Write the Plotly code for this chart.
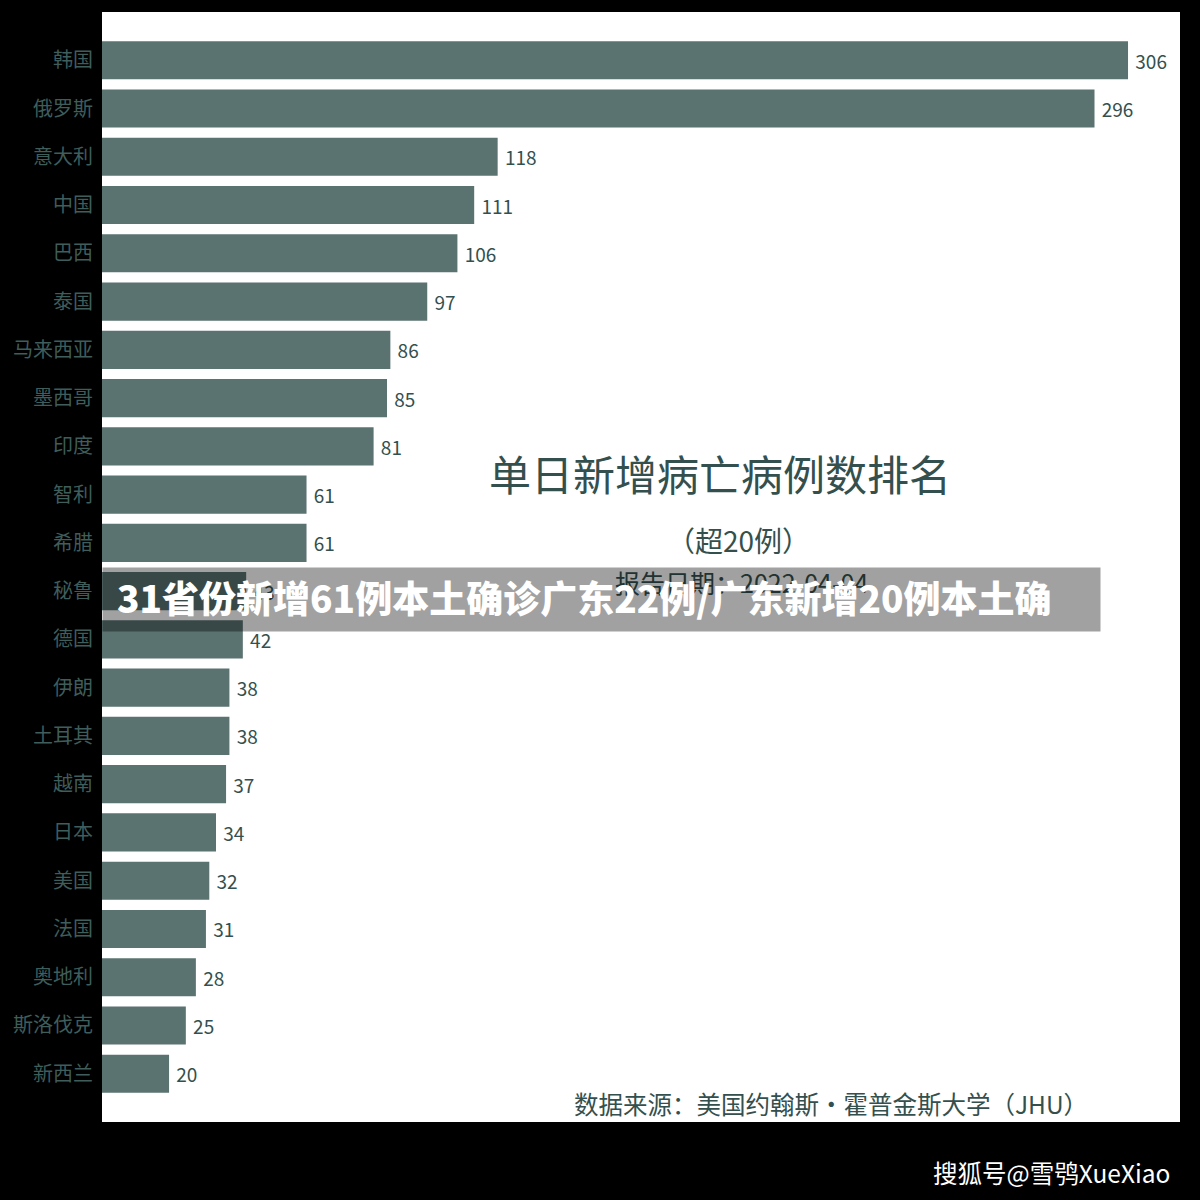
import plotly.graph_objects as go

countries = ["韩国", "俄罗斯", "意大利", "中国", "巴西", "泰国", "马来西亚", "墨西哥", "印度", "智利",
             "希腊", "秘鲁", "德国", "伊朗", "土耳其", "越南", "日本", "美国", "法国", "奥地利",
             "斯洛伐克", "新西兰"]
deaths = [306, 296, 118, 111, 106, 97, 86, 85, 81, 61,
          61, 43, 42, 38, 38, 37, 34, 32, 31, 28,
          25, 20]

title_text = "单日新增病亡病例数排名"
subtitle_text = "（超20例）"
date_text = "报告日期：2022-04-04"
source_text = "数据来源：美国约翰斯·霍普金斯大学（JHU）"
banner_text = "31省份新增61例本土确诊广东22例/广东新增20例本土确"
watermark_text = "搜狐号@雪鸮XueXiao"

FONT = "Noto Sans CJK SC"
BAR = "#5a7371"
DARK = "#34504e"

fig = go.Figure(go.Bar(
    x=deaths, y=countries, orientation="h",
    marker=dict(color=BAR, line=dict(width=0)),
    text=deaths, texttemplate=" %{x}", textposition="outside",
    textfont=dict(family=FONT, size=19, color=DARK),
    cliponaxis=False, hoverinfo="skip",
))

L, R, T, B = 102, 20, 12, 78
W = 1200 - L - R
H = 1200 - T - B

def px_x(p):
    return (p - L) / W

def px_y(p):
    return (1200 - B - p) / H

fig.update_layout(
    width=1200, height=1200,
    margin=dict(l=L, r=R, t=T, b=B, autoexpand=False),
    paper_bgcolor="black", plot_bgcolor="white",
    bargap=0.21, showlegend=False,
    font=dict(family=FONT),
    xaxis=dict(range=[0, 321.5], visible=False, fixedrange=True),
    yaxis=dict(type="category", categoryorder="array", categoryarray=countries,
               range=[len(countries), -1], showgrid=False, zeroline=False,
               ticks="", ticklabelstandoff=8, fixedrange=True,
               tickfont=dict(family=FONT, size=20, color="#3e5d5b")),
    annotations=[
        dict(text=title_text, xref="paper", yref="paper", x=px_x(720), y=px_y(472),
             xanchor="center", yanchor="middle", showarrow=False,
             font=dict(family=FONT, size=42, color=DARK)),
        dict(text=subtitle_text, xref="paper", yref="paper", x=px_x(738), y=px_y(540),
             xanchor="center", yanchor="middle", showarrow=False,
             font=dict(family=FONT, size=28, color=DARK)),
        dict(text=date_text, xref="paper", yref="paper", x=px_x(741), y=px_y(582),
             xanchor="center", yanchor="middle", showarrow=False,
             font=dict(family=FONT, size=25, color=DARK)),
        dict(text=source_text, xref="paper", yref="paper", x=px_x(1090), y=px_y(1103),
             xanchor="right", yanchor="middle", showarrow=False,
             font=dict(family=FONT, size=24.5, color=DARK)),
        # banner background
        dict(text=" ", xref="paper", yref="paper", x=px_x(102), y=px_y(599.5),
             xanchor="left", yanchor="middle", showarrow=False,
             width=997, height=63, bgcolor="rgba(0,0,0,0.37)", borderpad=0,
             font=dict(family=FONT, size=10, color="white")),
        dict(text=banner_text, xref="paper", yref="paper",
             x=px_x(115), y=px_y(597), xanchor="left", yanchor="middle", showarrow=False,
             font=dict(family=FONT, size=37, color="white", weight=900)),
        dict(text=watermark_text, xref="paper", yref="paper", x=px_x(1172), y=px_y(1172),
             xanchor="right", yanchor="middle", showarrow=False,
             font=dict(family=FONT, size=24.5, color="white")),
    ],
)

fig.write_html("out.html", config={"displayModeBar": False},
               post_script="document.body.style.margin='0';document.body.style.background='black';")
